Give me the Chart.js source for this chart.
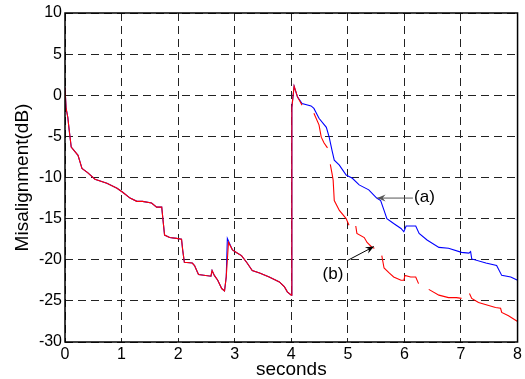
<!DOCTYPE html>
<html lang="en">
<head>
    <meta charset="UTF-8">
    <title>Misalignment</title>
    <script src="https://cdn.jsdelivr.net/npm/chart.js@4.4.4/dist/chart.umd.min.js"></script>
    <style>
        html, body {
            margin: 0;
            padding: 0;
            background: #ffffff;
        }
        #wrap {
            width: 525px;
            height: 379px;
        }
    </style>
</head>
<body>
    <div id="wrap"><canvas id="chart"></canvas></div>

    <script>
        // shared start of both curves (seconds, dB)
        const headX = [0.00, 0.02, 0.05, 0.07, 0.11, 0.23, 0.30, 0.40, 0.53, 0.74, 0.92, 1.02, 1.15, 1.27, 1.37, 1.53, 1.62, 1.71, 1.73, 1.76, 1.85, 1.97, 2.06, 2.08, 2.11, 2.25, 2.29, 2.34, 2.36, 2.58, 2.60, 2.64, 2.70, 2.77, 2.82, 2.85];
        const headY = [0.9, -1.6, -2.7, -4.0, -6.3, -7.3, -8.9, -9.4, -10.2, -10.7, -11.3, -11.8, -12.5, -12.9, -12.9, -13.1, -13.6, -13.6, -15.0, -17.0, -17.3, -17.4, -17.5, -18.8, -20.3, -20.4, -20.7, -21.5, -21.8, -22.0, -21.3, -21.9, -22.5, -23.5, -23.8, -22.1];

        // spike near 2.9 s
        const blueSpikeX = [2.87];
        const blueSpikeY = [-17.4];
        const redSpikeX = [2.89];
        const redSpikeY = [-17.9];

        // shared middle part, up to the peak after 4 s
        const midX = [2.96, 3.05, 3.12, 3.21, 3.31, 3.44, 3.61, 3.79, 3.88, 3.93, 4.00, 4.01, 4.05, 4.11];
        const midY = [-18.8, -19.2, -19.5, -20.3, -21.3, -21.6, -22.1, -22.7, -23.3, -23.9, -24.3, -1.5, 1.1, -0.2];

        // curve (a), blue
        const blueTailX = [4.19, 4.35, 4.40, 4.49, 4.62, 4.67, 4.72, 4.76, 4.85, 4.97, 5.08, 5.20, 5.37, 5.51, 5.58, 5.64, 5.69, 5.81, 5.94, 5.99, 6.03, 6.20, 6.26, 6.40, 6.61, 6.78, 7.01, 7.14, 7.17, 7.19, 7.44, 7.63, 7.72, 7.88, 8.00];
        const blueTailY = [-1.0, -1.3, -1.6, -2.8, -3.9, -5.1, -6.7, -7.9, -8.5, -9.7, -10.1, -10.9, -11.5, -12.5, -12.8, -14.0, -15.0, -15.6, -16.2, -16.6, -15.9, -15.9, -16.8, -17.6, -18.5, -18.6, -19.1, -19.2, -19.0, -19.9, -20.4, -20.7, -21.9, -22.1, -22.5];

        // curve (b), red, broken into pieces (null = gap)
        const redTailX = [4.19, 4.25, 4.40, 4.49, 4.53, 4.58, 4.64, 4.66, 4.69, 4.72, 4.74, 4.76, 4.85, 4.97, 5.02, 5.06, 5.14, 5.16, 5.29, 5.34, 5.43, 5.47, 5.52, 5.60, 5.64, 5.73, 5.81, 5.94, 5.99, 6.01, 6.11, 6.20, 6.25, 6.30, 6.43, 6.61, 6.78, 6.92, 7.01, 7.08, 7.15, 7.19, 7.31, 7.61, 7.70, 7.72, 7.84, 8.00];
        const redTailY = [-1.2, null, -2.2, -3.6, -5.1, -5.8, -6.4, null, -8.4, -9.5, -10.3, -12.8, -14.0, -15.0, -15.8, null, -15.9, -16.8, -17.3, -17.9, -18.5, -18.6, null, -19.5, -21.0, -21.6, -22.1, -22.5, -22.5, -21.9, -22.1, -22.1, -22.9, null, -23.6, -24.3, -24.6, -24.6, -24.7, null, -24.1, -24.7, -25.2, -25.8, -25.9, -26.4, -26.8, -27.5];

        const xTicks = [0, 1, 2, 3, 4, 5, 6, 7, 8];
        const yTicks = [10, 5, 0, -5, -10, -15, -20, -25, -30];

        function toPoints(xs, ys) {
            return xs.map((x, i) => ({ x: x, y: ys[i] }));
        }

        const bluePts = toPoints(headX.concat(blueSpikeX, midX, blueTailX), headY.concat(blueSpikeY, midY, blueTailY));
        const redPts = toPoints(headX.concat(redSpikeX, midX, redTailX), headY.concat(redSpikeY, midY, redTailY));

        const FONT = 'Arial, "Liberation Sans", sans-serif';

        // frame + arrows with labels, placed in data units
        const extras = {
            id: 'extras',
            afterDatasetsDraw(chart) {
                const { ctx, chartArea: a, scales } = chart;
                const px = v => scales.x.getPixelForValue(v);
                const py = v => scales.y.getPixelForValue(v);

                ctx.save();
                ctx.strokeStyle = '#000';
                ctx.lineWidth = 1.5;
                ctx.strokeRect(a.left, a.top, a.right - a.left, a.bottom - a.top);

                function arrow(x0, y0, x1, y1, color) {
                    const X0 = px(x0), Y0 = py(y0), X1 = px(x1), Y1 = py(y1);
                    const ang = Math.atan2(Y1 - Y0, X1 - X0);
                    ctx.strokeStyle = color;
                    ctx.fillStyle = color;
                    ctx.lineWidth = 1;
                    ctx.beginPath();
                    ctx.moveTo(X0, Y0);
                    ctx.lineTo(X1, Y1);
                    ctx.stroke();
                    const len = 9, w = 0.4;
                    ctx.beginPath();
                    ctx.moveTo(X1, Y1);
                    ctx.lineTo(X1 - len * Math.cos(ang - w), Y1 - len * Math.sin(ang - w));
                    ctx.lineTo(X1 - len * 0.6 * Math.cos(ang), Y1 - len * 0.6 * Math.sin(ang));
                    ctx.lineTo(X1 - len * Math.cos(ang + w), Y1 - len * Math.sin(ang + w));
                    ctx.closePath();
                    ctx.fill();
                }

                arrow(6.15, -12.5, 5.52, -12.5, '#555');
                arrow(4.99, -20.1, 5.46, -18.4, '#000');

                ctx.fillStyle = '#000';
                ctx.font = '17px ' + FONT;
                ctx.textBaseline = 'middle';
                ctx.textAlign = 'left';
                ctx.fillText('(a)', px(6.17), py(-12.4));
                ctx.textAlign = 'right';
                ctx.fillText('(b)', px(4.92), py(-21.8));
                ctx.restore();
            }
        };

        const tickFont = { family: FONT, size: 16 };

        new Chart(document.getElementById('chart'), {
            type: 'line',
            data: {
                datasets: [
                    {
                        label: '(b)',
                        data: redPts,
                        borderColor: '#ff0000',
                        borderWidth: 1.1,
                        pointRadius: 0,
                        tension: 0,
                        spanGaps: false
                    },
                    {
                        label: '(a)',
                        data: bluePts,
                        borderColor: '#0000ff',
                        borderWidth: 1.1,
                        pointRadius: 0,
                        tension: 0
                    }
                ]
            },
            options: {
                responsive: true,
                maintainAspectRatio: false,
                animation: false,
                layout: { padding: { top: 13, right: 6, left: 0, bottom: 0 } },
                plugins: {
                    legend: { display: false },
                    tooltip: { enabled: false }
                },
                scales: {
                    x: {
                        type: 'linear',
                        min: 0,
                        max: 8,
                        afterFit: s => { s.height = 37; },
                        afterBuildTicks: s => { s.ticks = xTicks.map(v => ({ value: v })); },
                        ticks: { color: '#000', font: tickFont, padding: 3, maxRotation: 0 },
                        grid: { color: '#222', lineWidth: 1, drawTicks: false },
                        border: { display: false, dash: [8, 5] },
                        title: {
                            display: true,
                            text: 'seconds',
                            color: '#000',
                            font: { family: FONT, size: 19, lineHeight: 1 },
                            padding: { top: 0, bottom: 0 }
                        }
                    },
                    y: {
                        min: -30,
                        max: 10,
                        afterFit: s => { s.width = 65; },
                        afterBuildTicks: s => { s.ticks = yTicks.map(v => ({ value: v })); },
                        ticks: { color: '#000', font: tickFont, padding: 3 },
                        grid: { color: '#222', lineWidth: 1, drawTicks: false },
                        border: { display: false, dash: [8, 5] },
                        title: {
                            display: true,
                            text: 'Misalignment(dB)',
                            color: '#000',
                            font: { family: FONT, size: 19, lineHeight: 1.2 },
                            padding: { top: 11, bottom: 0 }
                        }
                    }
                }
            },
            plugins: [extras]
        });
    </script>
</body>
</html>
